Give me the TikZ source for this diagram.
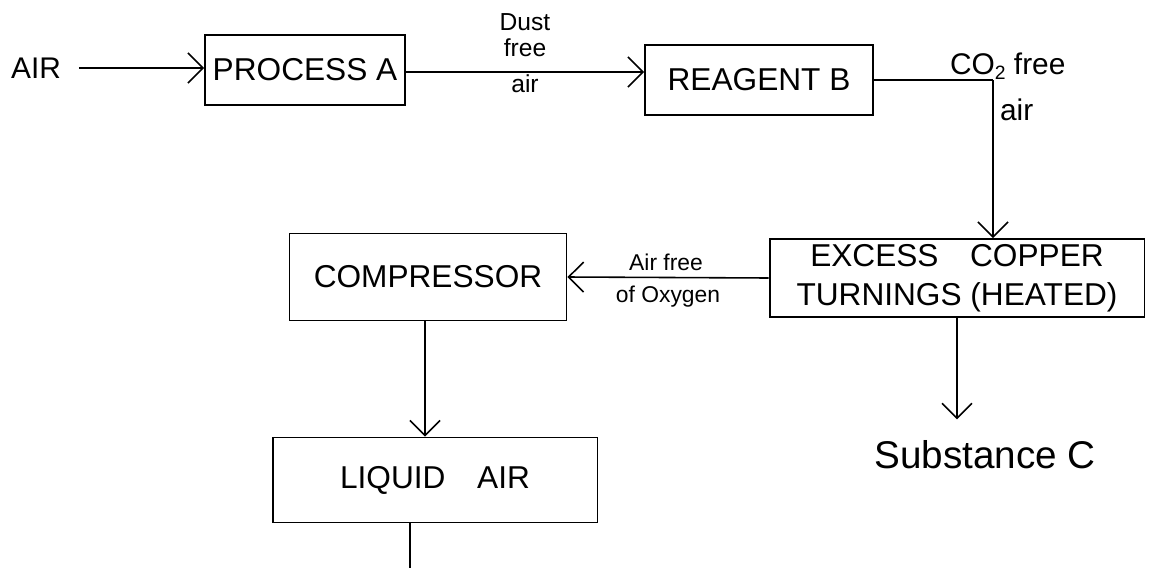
\documentclass[tikz,border=0pt]{standalone}
\usepackage{fontspec}
\setmainfont{Liberation Sans}
\usetikzlibrary{arrows.meta}
\newcommand{\subtwo}{{\fontsize{11}{11}\selectfont\raisebox{-3pt}{2}}}
\begin{document}
\begin{tikzpicture}[x=0.02cm,y=-0.02cm,
  box/.style={draw, line width=1.1pt, inner sep=0pt, align=center, font=\fontsize{18}{22}\selectfont},
  lbl/.style={inner sep=1pt, align=center, font=\fontsize{17}{19}\selectfont},
  small/.style={inner sep=1pt, align=center, font=\fontsize{13}{15}\selectfont},
  arr/.style={line width=0.9pt, -{Straight Barb[length=3mm,width=6mm]}},
  conn/.style={line width=0.9pt}]
\useasboundingbox (0,0) rectangle (1162,568);
% nodes
\node[lbl] (air) at (36,68) {AIR};
\node[box, minimum width=4cm, minimum height=1.4cm] (pa) at (305,70) {PROCESS A};
\node[box, minimum width=4.56cm, minimum height=1.4cm] (rb) at (759,80) {REAGENT B};
\node[box, minimum width=7.5cm, minimum height=1.56cm] (cu) at (957,278) {EXCESS\quad COPPER\\TURNINGS (HEATED)};
\node[box, minimum width=5.54cm, minimum height=1.74cm] (comp) at (428,277) {COMPRESSOR};
\node[box, minimum width=6.5cm, minimum height=1.7cm] (la) at (435,480) {LIQUID\quad AIR};
\node[lbl, inner sep=12pt, font=\fontsize{22}{24}\selectfont] (sc) at (985,455) {Substance C};
% edge labels
\node[lbl, font=\fontsize{14}{15}\selectfont] (l1) at (525,35) {Dust\\free};
\node[lbl, font=\fontsize{14}{15}\selectfont] (l2) at (525,84) {air};
\node[lbl, anchor=west] (l3) at (948,66) {CO\subtwo{} free};
\node[lbl, anchor=west] (l4) at (998,110) {air};
\node[small] (l5) at (666,262) {Air free};
\node[small] (l6) at (668,297) {of Oxygen};
% connectors
\coordinate (k) at (993,80);
\coordinate (lb) at (410,568);
\draw[arr, shorten <=9pt] (air.east) -- (pa.west |- air.east);
\draw[arr] (pa.east |- rb.west) ++(0,-8) coordinate (p1) (pa.east |- p1) -- (rb.west |- p1);
\draw[conn] (rb.east) -- (k);
\draw[arr] (k) -- (k |- cu.north);
\draw[arr] (cu.west) -- (comp.east);
\draw[arr] (comp.south -| 425,0) -- (la.north -| 425,0);
\draw[conn] (lb |- la.south) -- (lb);
\draw[arr] (cu.south) -- (cu.south |- sc.north) ;
\end{tikzpicture}
\end{document}
